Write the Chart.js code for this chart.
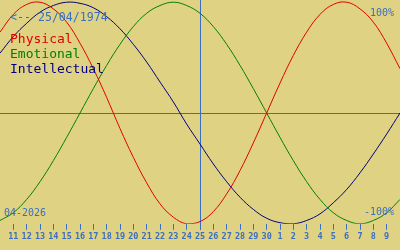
<!DOCTYPE html>
<html>
<head>
<meta charset="utf-8">
<script src="https://cdn.jsdelivr.net/npm/chart.js@4/dist/chart.umd.min.js"></script>
<style>
  html, body { margin: 0; padding: 0; background: #e0d283; }
  #wrap { width: 400px; height: 250px; }
</style>
</head>
<body>
<div id="wrap"><canvas id="bio"></canvas></div>
<script>
// day labels shown under the axis (11 April .. 9 May)
const dayLabels = ["11","12","13","14","15","16","17","18","19","20","21","22","23","24","25",
  "26","27","28","29","30","1","2","3","4","5","6","7","8","9"];
// x positions of the samples: one day before the first label to one day after the last
const dayIndex = [-1,0,1,2,3,4,5,6,7,8,9,10,11,12,13,14,15,16,17,18,19,20,21,22,23,24,25,26,27,28,29];
const physical = [0.73,0.89,0.98,1.00,0.94,0.82,0.63,0.40,0.14,-0.14,-0.40,-0.63,-0.82,-0.94,-1.00,-0.98,
  -0.89,-0.73,-0.52,-0.27,0,0.27,0.52,0.73,0.89,0.98,1.00,0.94,0.82,0.63,0.40];
const emotional = [-0.97,-0.90,-0.78,-0.62,-0.43,-0.22,0,0.22,0.43,0.62,0.78,0.90,0.97,1.00,0.97,0.90,
  0.78,0.62,0.43,0.22,0,-0.22,-0.43,-0.62,-0.78,-0.90,-0.97,-1.00,-0.97,-0.90,-0.78];
const intellectual = [0.54,0.69,0.81,0.91,0.97,1.00,0.99,0.95,0.87,0.76,0.62,0.46,0.28,0.10,-0.10,-0.28,
  -0.46,-0.62,-0.76,-0.87,-0.95,-0.99,-1.00,-0.97,-0.91,-0.81,-0.69,-0.54,-0.37,-0.19,0];
const todayIdx = 14; // 25 April
const seriesNames = ["Physical", "Emotional", "Intellectual"];
const seriesColors = ["#e00000", "#008000", "#000080"];

const axisBlue = "#3a6fc0";

const toPoints = (vals) => vals.map((v, i) => ({ x: dayIndex[i], y: v }));

// draws the midline, the "today" line and the texts
const overlay = {
  id: "overlay",
  beforeDatasetsDraw(chart) {
    const { ctx, chartArea, scales } = chart;
    const y0 = Math.round(scales.y.getPixelForValue(0)) + 0.5;
    const xt = Math.round(scales.x.getPixelForValue(todayIdx)) + 0.5;
    ctx.save();
    ctx.strokeStyle = axisBlue;
    ctx.lineWidth = 1;
    ctx.beginPath();
    ctx.moveTo(chartArea.left, y0);
    ctx.lineTo(chartArea.right, y0);
    ctx.moveTo(xt, chartArea.top);
    ctx.lineTo(xt, chartArea.bottom + 6);
    ctx.stroke();
    ctx.restore();
  },
  afterDraw(chart) {
    const { ctx } = chart;
    ctx.save();
    ctx.textBaseline = "alphabetic";
    ctx.fillStyle = axisBlue;
    ctx.font = "11.6px 'DejaVu Sans Mono'";
    ctx.fillText("<-- 25/04/1974", 10, 21);
    ctx.font = "10px 'DejaVu Sans Mono'";
    ctx.fillText("04-2026", 4, 216);
    ctx.textAlign = "right";
    ctx.fillText("100%", 394, 16);
    ctx.fillText("-100%", 394, 215);
    ctx.textAlign = "left";
    ctx.font = "13px 'DejaVu Sans Mono'";
    seriesNames.forEach((name, i) => {
      ctx.fillStyle = seriesColors[i];
      ctx.fillText(name, 10, 43 + i * 15);
    });
    ctx.restore();
  }
};

new Chart(document.getElementById("bio"), {
  type: "line",
  data: {
    datasets: [
      { label: seriesNames[0], data: toPoints(physical), borderColor: seriesColors[0] },
      { label: seriesNames[1], data: toPoints(emotional), borderColor: seriesColors[1] },
      { label: seriesNames[2], data: toPoints(intellectual), borderColor: seriesColors[2] },
    ],
  },
  options: {
    responsive: true,
    maintainAspectRatio: false,
    animation: false,
    layout: { padding: { left: 0, right: 0, top: 0, bottom: 6 } },
    elements: {
      line: { borderWidth: 1, tension: 0.4 },
      point: { radius: 0 },
    },
    plugins: { legend: { display: false }, tooltip: { enabled: false } },
    scales: {
      x: {
        type: "linear",
        min: -1,
        max: 29,
        afterBuildTicks: (axis) => {
          axis.ticks = dayLabels.map((d, i) => ({ value: i }));
        },
        ticks: {
          autoSkip: false,
          maxRotation: 0,
          padding: 2,
          color: axisBlue,
          font: { family: "DejaVu Sans Mono", size: 8.5, weight: "bold" },
          callback: (v) => dayLabels[v],
        },
        grid: {
          drawOnChartArea: false,
          drawTicks: true,
          tickLength: 6,
          color: axisBlue,
        },
        border: { display: false },
      },
      y: {
        display: false,
        min: -1.0,
        max: 1.02,
      },
    },
  },
  plugins: [overlay],
});
</script>
</body>
</html>
